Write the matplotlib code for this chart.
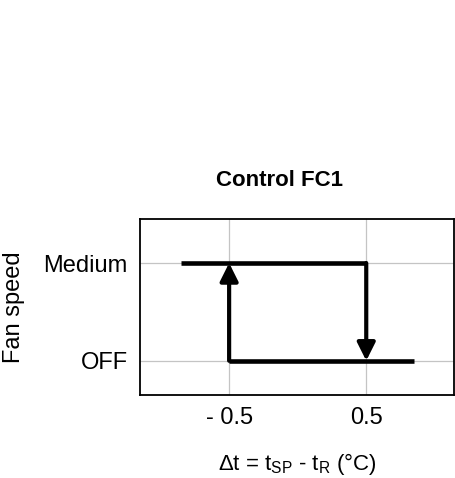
import matplotlib
matplotlib.use('Agg')
import matplotlib.pyplot as plt

plt.rcParams['font.family'] = ['Liberation Sans', 'DejaVu Sans']
plt.rcParams['mathtext.fontset'] = 'custom'
plt.rcParams['mathtext.rm'] = 'Liberation Sans'
plt.rcParams['mathtext.it'] = 'Liberation Sans'

# hysteresis of the fan: switch points in delta t, two speed states
switch_off = 0.5
switch_on = -0.5
state_names = ['OFF', 'Medium']
state_levels = [0, 1]
upper_x = [-0.85, 0.5]   # Medium branch
lower_x = [-0.5, 0.85]   # OFF branch
tick_pos = [-0.5, 0.5]
tick_text = ['- 0.5', '0.5']

fig = plt.figure(figsize=(4.55, 4.78), dpi=100)
ax = fig.add_axes([140 / 455, 1 - 395 / 478, 314 / 455, 176 / 478])

ax.plot(upper_x, [state_levels[1]] * 2, color='black', lw=3.3, solid_capstyle='butt', zorder=3)
ax.plot(lower_x, [state_levels[0]] * 2, color='black', lw=3.3, solid_capstyle='butt', zorder=3)

arrow = dict(arrowstyle='-|>', color='black', lw=3.0, mutation_scale=27,
             shrinkA=0, shrinkB=0)
ax.annotate('', xy=(switch_on, state_levels[1]), xytext=(switch_on, state_levels[0]),
            arrowprops=arrow, zorder=4)
ax.annotate('', xy=(switch_off, state_levels[0]), xytext=(switch_off, state_levels[1]),
            arrowprops=arrow, zorder=4)

ax.set_xlim(-1.15, 1.14)
ax.set_ylim(-0.35, 1.45)
ax.set_xticks(tick_pos)
ax.set_xticklabels(tick_text)
ax.set_yticks(state_levels)
ax.set_yticklabels(state_names)
ax.tick_params(length=0, labelsize=17, pad=9)
ax.grid(True, color='#c4c4c4', lw=0.9)
ax.set_axisbelow(True)
for s in ax.spines.values():
    s.set_linewidth(1.3)
    s.set_color('black')

ax.set_ylabel('Fan speed', fontsize=17)
ax.yaxis.set_label_coords(-0.366, 0.5)
ax.set_xlabel(r'$\Delta$t = t$_{\mathrm{SP}}$ - t$_{\mathrm{R}}$ (°C)', fontsize=16)
ax.xaxis.set_label_coords(0.5, -0.32)

fig.text(280 / 455, 1 - 180 / 478, 'Control FC1', fontsize=16, fontweight='bold',
         ha='center', va='center')

fig.savefig('out.png', dpi=100)
